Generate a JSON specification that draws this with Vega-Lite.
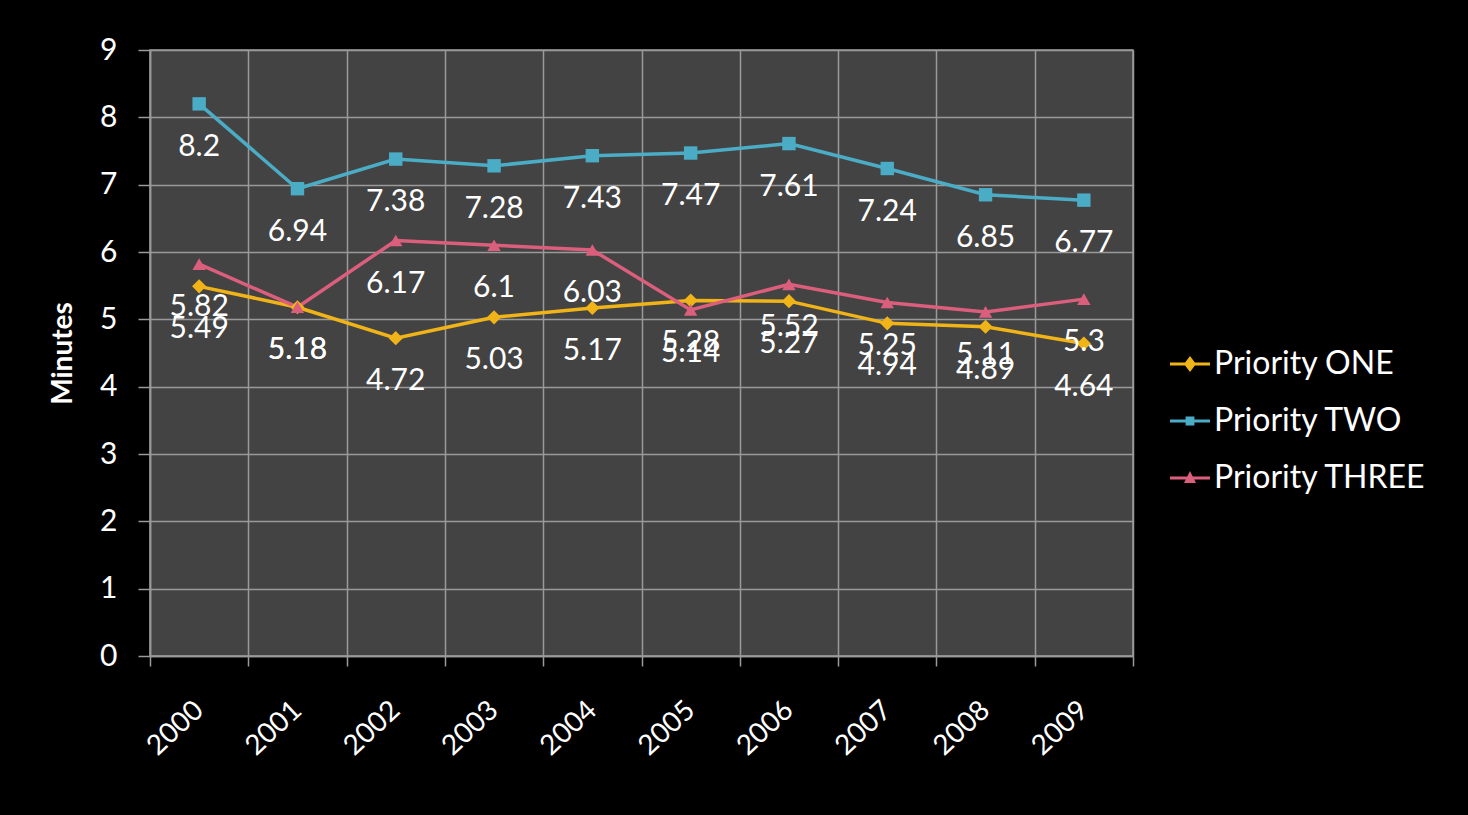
{
  "$schema": "https://vega.github.io/schema/vega-lite/v6.json",
  "width": 983,
  "height": 606,
  "autosize": {"type": "none"},
  "padding": {"left": 150, "top": 50, "right": 335, "bottom": 159},
  "background": "#000000",
  "config": {
    "view": {"fill": "#434343", "stroke": "#9a9a9a", "strokeWidth": 1.5},
    "font": "Lato"
  },
  "data": {
    "values": [
      {"year": "2000", "series": "Priority ONE", "value": 5.49},
      {"year": "2001", "series": "Priority ONE", "value": 5.18},
      {"year": "2002", "series": "Priority ONE", "value": 4.72},
      {"year": "2003", "series": "Priority ONE", "value": 5.03},
      {"year": "2004", "series": "Priority ONE", "value": 5.17},
      {"year": "2005", "series": "Priority ONE", "value": 5.28},
      {"year": "2006", "series": "Priority ONE", "value": 5.27},
      {"year": "2007", "series": "Priority ONE", "value": 4.94},
      {"year": "2008", "series": "Priority ONE", "value": 4.89},
      {"year": "2009", "series": "Priority ONE", "value": 4.64},
      {"year": "2000", "series": "Priority TWO", "value": 8.2},
      {"year": "2001", "series": "Priority TWO", "value": 6.94},
      {"year": "2002", "series": "Priority TWO", "value": 7.38},
      {"year": "2003", "series": "Priority TWO", "value": 7.28},
      {"year": "2004", "series": "Priority TWO", "value": 7.43},
      {"year": "2005", "series": "Priority TWO", "value": 7.47},
      {"year": "2006", "series": "Priority TWO", "value": 7.61},
      {"year": "2007", "series": "Priority TWO", "value": 7.24},
      {"year": "2008", "series": "Priority TWO", "value": 6.85},
      {"year": "2009", "series": "Priority TWO", "value": 6.77},
      {"year": "2000", "series": "Priority THREE", "value": 5.82},
      {"year": "2001", "series": "Priority THREE", "value": 5.18},
      {"year": "2002", "series": "Priority THREE", "value": 6.17},
      {"year": "2003", "series": "Priority THREE", "value": 6.1},
      {"year": "2004", "series": "Priority THREE", "value": 6.03},
      {"year": "2005", "series": "Priority THREE", "value": 5.14},
      {"year": "2006", "series": "Priority THREE", "value": 5.52},
      {"year": "2007", "series": "Priority THREE", "value": 5.25},
      {"year": "2008", "series": "Priority THREE", "value": 5.11},
      {"year": "2009", "series": "Priority THREE", "value": 5.3}
    ]
  },
  "encoding": {
    "x": {
      "field": "year",
      "type": "nominal",
      "scale": {"type": "band", "paddingInner": 0, "paddingOuter": 0},
      "axis": {
        "title": null,
        "labelAngle": -43,
        "labelAlign": "right",
        "labelBaseline": "middle",
        "labelFontSize": 28,
        "labelColor": "#ffffff",
        "labelPadding": 40,
        "tickSize": 10,
        "tickBand": "extent",
        "tickColor": "#9a9a9a",
        "tickWidth": 1.5,
        "grid": true,
        "gridColor": "#9a9a9a",
        "gridWidth": 1.5,
        "domainColor": "#9a9a9a",
        "domainWidth": 1.5
      }
    },
    "y": {
      "field": "value",
      "type": "quantitative",
      "scale": {"domain": [0, 9], "nice": false},
      "axis": {
        "title": "Minutes",
        "titleFontSize": 28,
        "titleFontWeight": "bold",
        "titleColor": "#ffffff",
        "titlePadding": 22,
        "values": [0, 1, 2, 3, 4, 5, 6, 7, 8, 9],
        "labelFontSize": 30,
        "labelColor": "#ffffff",
        "labelPadding": 21,
        "tickSize": 12,
        "tickColor": "#9a9a9a",
        "tickWidth": 1.5,
        "grid": true,
        "gridColor": "#9a9a9a",
        "gridWidth": 1.5,
        "domainColor": "#9a9a9a",
        "domainWidth": 1.5
      }
    }
  },
  "layer": [
    {
      "mark": {"type": "line", "strokeWidth": 3.5},
      "encoding": {
        "color": {
          "field": "series",
          "type": "nominal",
          "scale": {
            "domain": ["Priority ONE", "Priority TWO", "Priority THREE"],
            "range": ["#F0B418", "#4BACC6", "#DB5F7C"]
          },
          "legend": {
            "orient": "none",
            "legendX": 1020,
            "legendY": 294,
            "title": null,
            "padding": 0,
            "labelFontSize": 32,
            "labelColor": "#ffffff",
            "labelLimit": 400,
            "symbolSize": 1600,
            "rowPadding": 21,
            "labelOffset": 4,
            "symbolStrokeWidth": 0,
            "encoding": {
              "symbols": {
                "shape": {"value": {"expr": "datum.value === 'Priority ONE' ? 'M-1,-0.07L1,-0.07L1,0.07L-1,0.07Z M0,-0.4L0.3,0L0,0.4L-0.3,0Z' : datum.value === 'Priority TWO' ? 'M-1,-0.07L1,-0.07L1,0.07L-1,0.07Z M-0.22,-0.22L0.22,-0.22L0.22,0.22L-0.22,0.22Z' : 'M-1,-0.07L1,-0.07L1,0.07L-1,0.07Z M0,-0.35L0.3,0.25L-0.3,0.25Z'"}},
                "fill": {"value": {"expr": "scale('color', datum.value)"}},
                "strokeWidth": {"value": 0},
                "opacity": {"value": 1}
              }
            }
          }
        }
      }
    },
    {
      "transform": [{"filter": "datum.series === 'Priority ONE'"}],
      "mark": {"type": "point", "shape": "diamond", "filled": true, "opacity": 1, "size": 200, "color": "#F0B418"}
    },
    {
      "transform": [{"filter": "datum.series === 'Priority TWO'"}],
      "mark": {"type": "point", "shape": "square", "filled": true, "opacity": 1, "size": 180, "color": "#4BACC6"}
    },
    {
      "transform": [{"filter": "datum.series === 'Priority THREE'"}],
      "mark": {"type": "point", "shape": "triangle-up", "filled": true, "opacity": 1, "size": 180, "color": "#DB5F7C"}
    },
    {
      "mark": {"type": "text", "dy": 43, "fontSize": 30, "baseline": "middle", "color": "#ffffff"},
      "encoding": {
        "text": {"field": "value", "type": "nominal"}
      }
    }
  ]
}
